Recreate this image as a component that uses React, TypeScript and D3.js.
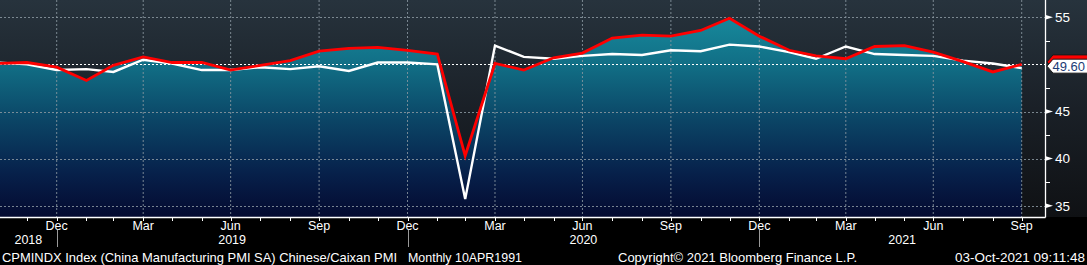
import React from "react";
import * as d3 from "d3";

const W = 1087;
const H = 265;

// Month-end dates Oct 2018 .. Sep 2021
const startYear = 2018;
const startMonth = 9; // October (0-based)
const caixinPMI = [
  50.1, 50.2, 49.7,
  48.3, 49.9, 50.8, 50.2, 50.2, 49.4, 49.9, 50.4, 51.4, 51.7, 51.8, 51.5,
  51.1, 40.3, 50.1, 49.4, 50.7, 51.2, 52.8, 53.1, 53.0, 53.6, 54.9, 53.0,
  51.5, 50.9, 50.6, 51.9, 52.0, 51.3, 50.3, 49.2, 50.0,
];
const officialPMI = [
  50.2, 50.0, 49.4,
  49.5, 49.2, 50.5, 50.1, 49.4, 49.4, 49.7, 49.5, 49.8, 49.3, 50.2, 50.2,
  50.0, 35.7, 52.0, 50.8, 50.6, 50.9, 51.1, 51.0, 51.5, 51.4, 52.1, 51.9,
  51.3, 50.6, 51.9, 51.1, 51.0, 50.9, 50.4, 50.1, 49.6,
];
const yTicks = [35, 40, 45, 55];
const yMinorTicks = [37.5, 42.5, 47.5, 52.5];
const monthLabels = ["Jan", "Feb", "Mar", "Apr", "May", "Jun", "Jul", "Aug", "Sep", "Oct", "Nov", "Dec"];
const years = [2018, 2019, 2020, 2021];
const footerLeft = "CPMINDX Index (China Manufacturing PMI SA) Chinese/Caixan PMI";
const footerMid = "Monthly 10APR1991";
const footerCopy = "Copyright\u00A9 2021 Bloomberg Finance L.P.";
const footerDate = "03-Oct-2021 09:11:48";

const monthEnd = (y: number, m: number) => new Date(y, m + 1, 0);
const dates = caixinPMI.map((_, i) => monthEnd(startYear, startMonth + i));

const plotRight = 1045;
const plotBottom = 217;

const x = d3
  .scaleTime()
  .domain([new Date(2018, 11, 31), new Date(2021, 8, 30)])
  .range([56.7, 1021.7]);
const y = d3.scaleLinear().domain([35, 55]).range([205.7, 17.3]);

const FONT = "'Liberation Sans', Arial, sans-serif";

export default function App() {
  const caixinPts: [Date, number][] = dates.map((d, i) => [d, caixinPMI[i]]);
  const offPts: [Date, number][] = dates.map((d, i) => [d, officialPMI[i]]);

  const line = d3
    .line<[Date, number]>()
    .x((d) => x(d[0]))
    .y((d) => y(d[1]));
  const area = d3
    .area<[Date, number]>()
    .x((d) => x(d[0]))
    .y0(plotBottom)
    .y1((d) => y(d[1]));

  const allMonths: Date[] = [];
  for (let i = -2; i < 40; i++) {
    const d = monthEnd(startYear, startMonth + i);
    const px = x(d);
    if (px >= 0 && px <= plotRight) allMonths.push(d);
  }
  const quarterMonths = allMonths.filter((d) => d.getMonth() % 3 === 2);
  const yearEnds = allMonths.filter((d) => d.getMonth() === 11);

  const lastOff = officialPMI[officialPMI.length - 1];
  const lastCx = caixinPMI[caixinPMI.length - 1];
  const labelPath = (cy: number) => {
    const h = 14;
    const t = cy - h / 2;
    const b = cy + h / 2;
    return `M1047,${cy} L1053,${t} L1090,${t} L1090,${b} L1053,${b} Z`;
  };
  const whiteCy = y(lastOff) - 2;
  const redCy = y(lastCx) - 2.5;

  return (
    <svg
      width={W}
      height={H}
      style={{ position: "fixed", left: 0, top: 0, display: "block" }}
      fontFamily={FONT}
    >
      <defs>
        <linearGradient id="bg" x1="0" y1="0" x2="0" y2={plotBottom} gradientUnits="userSpaceOnUse">
          <stop offset="0" stopColor="#27333d" />
          <stop offset="0.5" stopColor="#1a2027" />
          <stop offset="1" stopColor="#0f1114" />
        </linearGradient>
        <linearGradient id="fill" x1="0" y1="15" x2="0" y2={plotBottom} gradientUnits="userSpaceOnUse">
          <stop offset="0" stopColor="#178a9d" />
          <stop offset="0.25" stopColor="#116e85" />
          <stop offset="0.52" stopColor="#0b4566" />
          <stop offset="0.78" stopColor="#07214b" />
          <stop offset="1" stopColor="#040a30" />
        </linearGradient>
        <clipPath id="plotClip">
          <rect x={0} y={0} width={plotRight} height={plotBottom} />
        </clipPath>
      </defs>

      <rect x={0} y={0} width={W} height={H} fill="#000" />
      <rect x={0} y={0} width={W} height={plotBottom} fill="url(#bg)" />

      <g clipPath="url(#plotClip)">
        <path d={area(caixinPts) || ""} fill="url(#fill)" />
        {quarterMonths.map((d, i) => (
          <line
            key={"vg" + i}
            x1={x(d)}
            x2={x(d)}
            y1={0}
            y2={plotBottom}
            stroke="#8b98a1"
            strokeWidth={1}
            strokeDasharray="2,2"
            opacity={0.85}
          />
        ))}
        {yTicks.map((t) => (
          <line
            key={"hg" + t}
            x1={0}
            x2={plotRight}
            y1={Math.round(y(t)) + 0.5}
            y2={Math.round(y(t)) + 0.5}
            stroke="#8b98a1"
            strokeWidth={1}
            strokeDasharray="2,2"
            opacity={0.85}
          />
        ))}
        <line
          x1={0}
          x2={plotRight}
          y1={Math.round(y(50)) + 0.5}
          y2={Math.round(y(50)) + 0.5}
          stroke="#ffffff"
          strokeWidth={1.2}
          strokeDasharray="2,2"
        />
        <path d={line(offPts) || ""} fill="none" stroke="#ffffff" strokeWidth={2.4} strokeLinejoin="miter" />
        <path d={line(caixinPts) || ""} fill="none" stroke="#ff0000" strokeWidth={2.8} strokeLinejoin="miter" />
      </g>

      <line x1={0} x2={plotRight + 0.5} y1={plotBottom + 0.5} y2={plotBottom + 0.5} stroke="#fff" strokeWidth={1.3} />
      <line x1={plotRight + 0.5} x2={plotRight + 0.5} y1={0} y2={plotBottom + 0.5} stroke="#fff" strokeWidth={1.3} />

      {allMonths.map((d, i) => (
        <line
          key={"mt" + i}
          x1={Math.round(x(d)) + 0.5}
          x2={Math.round(x(d)) + 0.5}
          y1={plotBottom}
          y2={plotBottom + 4}
          stroke="#fff"
          strokeWidth={1}
        />
      ))}
      {quarterMonths.map((d, i) => (
        <text key={"ql" + i} x={x(d)} y={230} fill="#fff" fontSize={12.5} textAnchor="middle">
          {monthLabels[d.getMonth()]}
        </text>
      ))}
      {yearEnds.map((d, i) => (
        <line
          key={"ys" + i}
          x1={Math.round(x(d)) + 0.5}
          x2={Math.round(x(d)) + 0.5}
          y1={230}
          y2={247}
          stroke="#9a9a9a"
          strokeWidth={1}
        />
      ))}
      {years.map((yr) => {
        const a = Math.max(0, x(new Date(yr - 1, 11, 31)));
        const b = Math.min(plotRight, x(new Date(yr, 11, 31)));
        return (
          <text key={"yr" + yr} x={(a + b) / 2} y={244} fill="#fff" fontSize={12.5} textAnchor="middle">
            {yr}
          </text>
        );
      })}

      {yMinorTicks.map((t) => (
        <line
          key={"ym" + t}
          x1={plotRight}
          x2={plotRight + 5}
          y1={Math.round(y(t)) + 0.5}
          y2={Math.round(y(t)) + 0.5}
          stroke="#fff"
          strokeWidth={1}
        />
      ))}
      {yTicks.map((t) => {
        const cy = y(t);
        return (
          <g key={"yt" + t}>
            <path d={`M${plotRight},${cy - 2.5} L${plotRight + 8},${cy} L${plotRight},${cy + 2.5} Z`} fill="#fff" />
            <text x={1055} y={cy} dy="0.36em" fill="#fff" fontSize={13.5}>
              {t}
            </text>
          </g>
        );
      })}

      <path d={labelPath(redCy)} fill="#ff0000" stroke="#1a1a1a" strokeWidth={1} />
      <path d={labelPath(whiteCy)} fill="#ffffff" stroke="#1a1a1a" strokeWidth={1} />
      <text x={1052.5} y={whiteCy} dy="0.36em" fill="#1c3c75" fontSize={13}>
        {lastOff.toFixed(2)}
      </text>

      <text x={2} y={262} fill="#fff" fontSize={13} textLength={395} lengthAdjust="spacingAndGlyphs">
        {footerLeft}
      </text>
      <text x={408} y={262} fill="#fff" fontSize={13} textLength={114} lengthAdjust="spacingAndGlyphs">
        {footerMid}
      </text>
      <text x={618} y={262} fill="#fff" fontSize={13} textLength={239} lengthAdjust="spacingAndGlyphs">
        {footerCopy}
      </text>
      <text x={955} y={262} fill="#fff" fontSize={13} textLength={130} lengthAdjust="spacingAndGlyphs">
        {footerDate}
      </text>
    </svg>
  );
}
